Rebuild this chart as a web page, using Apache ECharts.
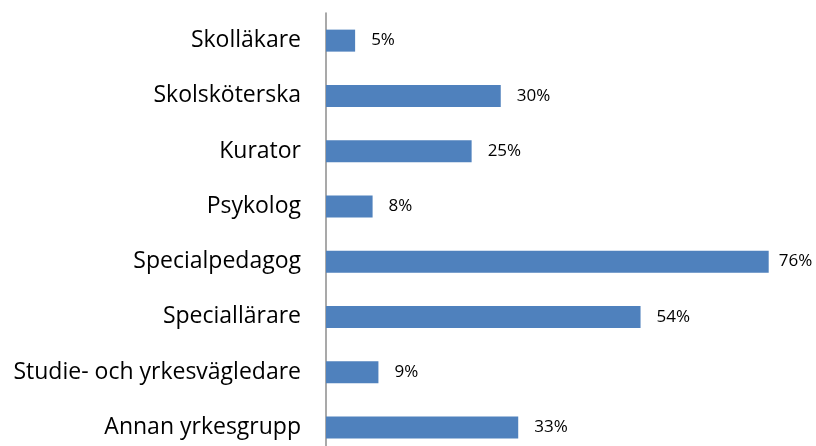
<!DOCTYPE html>
<html>
<head>
<meta charset="utf-8">
<script src="https://cdn.jsdelivr.net/npm/echarts@6/dist/echarts.min.js"></script>
<style>
  html, body { margin: 0; padding: 0; background: #fff; }
  #myChart { width: 816px; height: 446px; }
</style>
</head>
<body>
<div id="myChart"></div>
<script>
const categories = [
  "Skolläkare",
  "Skolsköterska",
  "Kurator",
  "Psykolog",
  "Specialpedagog",
  "Speciallärare",
  "Studie- och yrkesvägledare",
  "Annan yrkesgrupp",
];
const values = [5, 30, 25, 8, 76, 54, 9, 33];

let myChart = echarts.init(document.getElementById("myChart"));
myChart.setOption({
  animation: false,
  textStyle: { fontFamily: "Open Sans" },
  grid: {
    left: 326,
    right: 24,
    top: 13,
    height: 442,
    outerBoundsMode: "none",
    containLabel: false,
  },
  xAxis: {
    type: "value",
    min: 0,
    max: 80,
    show: false,
  },
  yAxis: {
    type: "category",
    data: categories,
    inverse: true,
    axisTick: { show: false },
    axisLine: {
      lineStyle: { color: "#8c8c8c", width: 1.5 }, // vertical axis line
    },
    axisLabel: {
      color: "#000",
      fontSize: 23,
      fontFamily: "Open Sans",
      margin: 25,
    },
  },
  series: [
    {
      type: "bar",
      barWidth: 22,
      data: values.map((v) => ({
        value: v,
        label: { distance: v > 70 ? 10 : 16 },
      })),
      itemStyle: { color: "#4f81bd" },
      label: {
        show: true,
        position: "right",
        formatter: "{c}%",
        color: "#000",
        fontSize: 17,
        fontFamily: "Open Sans",
      },
    },
  ],
});
</script>
</body>
</html>
